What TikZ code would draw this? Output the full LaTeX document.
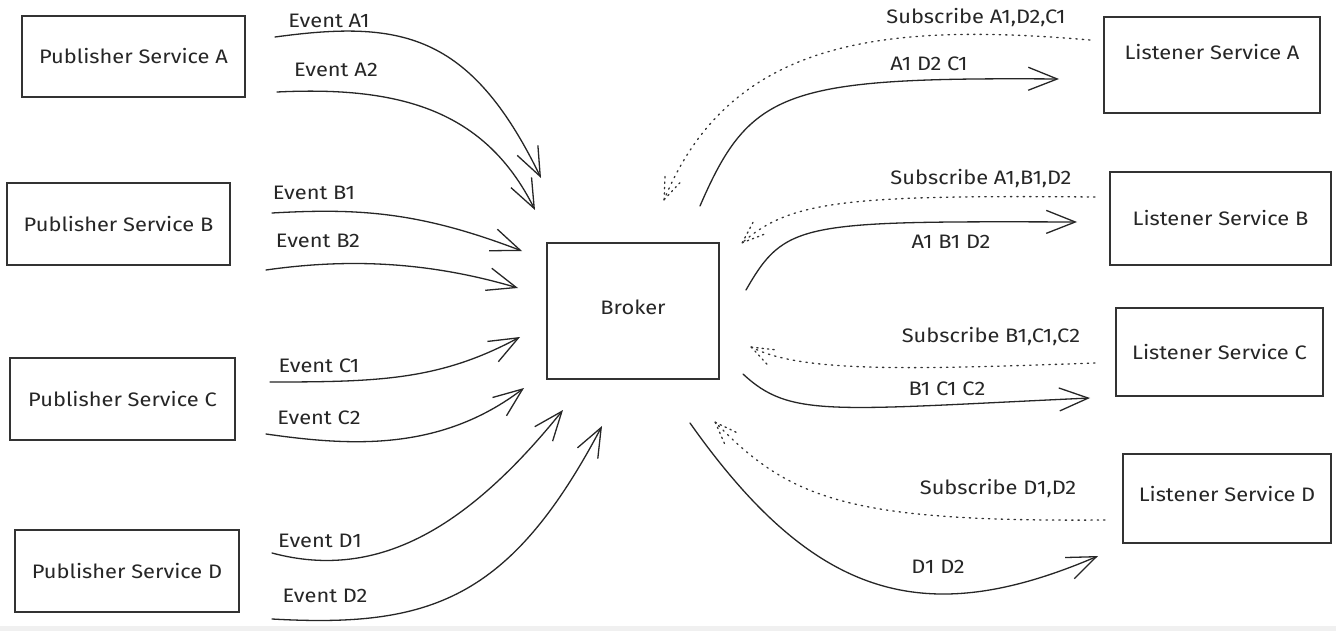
\documentclass[tikz,border=0pt]{standalone}
\usepackage{fontspec}
\setmainfont[FakeStretch=1.12]{Fira Sans}
\usetikzlibrary{arrows.meta,decorations.markings}
\begin{document}
\begin{tikzpicture}[x=1pt,y=-1pt,
  svc/.style={draw=black!80, line width=1.3pt, inner sep=0pt, font=\fontsize{19.5}{22}\selectfont, text=black!85},
  lbl/.style={inner sep=0pt, font=\fontsize{19.5}{22}\selectfont, text=black!85},
  flow/.style={draw=black!85, line width=1.3pt, line cap=round,
    -{Straight Barb[length=29pt,width=23pt,line width=1.3pt]}},
  sub/.style={draw=black!80, line width=1.3pt, line cap=round, dash pattern=on 1.4pt off 5pt,
    postaction={decorate},
    decoration={markings, mark=at position 0.999 with {
      \draw[black!80, line width=1.3pt, line cap=round, dash pattern=on 1.4pt off 4pt] (0pt,0pt) -- (-24pt,9pt);
      \draw[black!80, line width=1.3pt, line cap=round, dash pattern=on 1.4pt off 4pt] (0pt,0pt) -- (-24pt,-9pt);}}}]
% canvas
\fill[white] (0,0) rectangle (1336,631);
\fill[black!6] (0,626) rectangle (1336,631);
\useasboundingbox (0,0) rectangle (1336,631);

% publishers
\node[svc, minimum width=223pt, minimum height=81pt] (pubA) at (133.5,56.5) {Publisher Service A};
\node[svc, minimum width=223pt, minimum height=82pt] (pubB) at (118.5,224) {Publisher Service B};
\node[svc, minimum width=225pt, minimum height=82pt] (pubC) at (122.5,399) {Publisher Service C};
\node[svc, minimum width=224pt, minimum height=82pt] (pubD) at (127,571) {Publisher Service D};

% broker
\node[svc, minimum width=172pt, minimum height=136pt, text depth=8pt] (broker) at (633,311) {Broker};

% listeners
\node[svc, minimum width=216pt, minimum height=96pt, text depth=27pt] (lisA) at (1212,65) {Listener Service A};
\node[svc, minimum width=221pt, minimum height=93pt] (lisB) at (1220.5,218.5) {Listener Service B};
\node[svc, minimum width=207pt, minimum height=88pt] (lisC) at (1219.5,352) {Listener Service C};
\node[svc, minimum width=208pt, minimum height=89pt, text depth=9pt] (lisD) at (1227,498.5) {Listener Service D};

% connector end points
\coordinate (a1s) at (275,37);   \coordinate (a1e) at (541,178);
\coordinate (a2s) at (277,92);   \coordinate (a2e) at (535,210);
\coordinate (b1s) at (272,213);  \coordinate (b1e) at (522,251);
\coordinate (b2s) at (266,270);  \coordinate (b2e) at (518,288);
\coordinate (c1s) at (270,382);  \coordinate (c1e) at (520,337);
\coordinate (c2s) at (266,434);  \coordinate (c2e) at (524,388);
\coordinate (d1s) at (272,553);  \coordinate (d1e) at (563,410);
\coordinate (d2s) at (272,619);  \coordinate (d2e) at (602,426);

\coordinate (sAs) at (1090,40);  \coordinate (sAe) at (664,200);
\coordinate (oAs) at (700,206);  \coordinate (oAe) at (1059,79);
\coordinate (sBs) at (1095,197); \coordinate (sBe) at (742,243);
\coordinate (oBs) at (746,290);  \coordinate (oBe) at (1077,222);
\coordinate (sCs) at (1095,363); \coordinate (sCe) at (751,347);
\coordinate (oCs) at (743,374);  \coordinate (oCe) at (1090,398);
\coordinate (sDs) at (1105,520); \coordinate (sDe) at (715,422);
\coordinate (oDs) at (690,423);  \coordinate (oDe) at (1098,556);

% published events
\draw[flow] (a1s) .. controls (400,20) and (470,32) .. (a1e);
\draw[flow] (a2s) .. controls (400,86) and (485,110) .. (a2e);
\draw[flow] (b1s) .. controls (360,208) and (420,212) .. (b1e);
\draw[flow] (b2s) .. controls (350,258) and (430,262) .. (b2e);
\draw[flow] (c1s) .. controls (380,382) and (440,380) .. (c1e);
\draw[flow] (c2s) .. controls (350,446) and (440,452) .. (c2e);
\draw[flow] (d1s) .. controls (380,582) and (470,525) .. (d1e);
\draw[flow] (d2s) .. controls (430,628) and (510,600) .. (d2e);

% subscriptions
\draw[sub] (sAs) .. controls (880,22) and (730,40) .. (sAe);
\draw[sub] (sBs) .. controls (850,195) and (790,200) .. (sBe);
\draw[sub] (sCs) .. controls (900,370) and (800,372) .. (sCe);
\draw[sub] (sDs) .. controls (850,522) and (790,500) .. (sDe);

% delivered events
\draw[flow] (oAs) .. controls (750,90) and (785,77) .. (oAe);
\draw[flow] (oBs) .. controls (785,222) and (800,221) .. (oBe);
\draw[flow] (oCs) .. controls (790,418) and (830,410) .. (oCe);
\draw[flow] (oDs) .. controls (815,600) and (925,630) .. (oDe);

% labels
\node[lbl] (tA1) at (329,21) {Event A1};
\node[lbl] (tA2) at (336,70) {Event A2};
\node[lbl] (tB1) at (314,193) {Event B1};
\node[lbl] (tB2) at (318,241) {Event B2};
\node[lbl] (tC1) at (319,366) {Event C1};
\node[lbl] (tC2) at (319,418) {Event C2};
\node[lbl] (tD1) at (320,541) {Event D1};
\node[lbl] (tD2) at (325,596) {Event D2};

\node[lbl] (tsA) at (976,18) {Subscribe A1,D2,C1};
\node[lbl] (toA) at (929,64) {A1 D2 C1};
\node[lbl] (tsB) at (981,179) {Subscribe A1,B1,D2};
\node[lbl] (toB) at (951,242) {A1 B1 D2};
\node[lbl] (tsC) at (991,337) {Subscribe B1,C1,C2};
\node[lbl] (toC) at (947,389) {B1 C1 C2};
\node[lbl] (tsD) at (998,489) {Subscribe D1,D2};
\node[lbl] (toD) at (938,567) {D1 D2};
\end{tikzpicture}
\end{document}
